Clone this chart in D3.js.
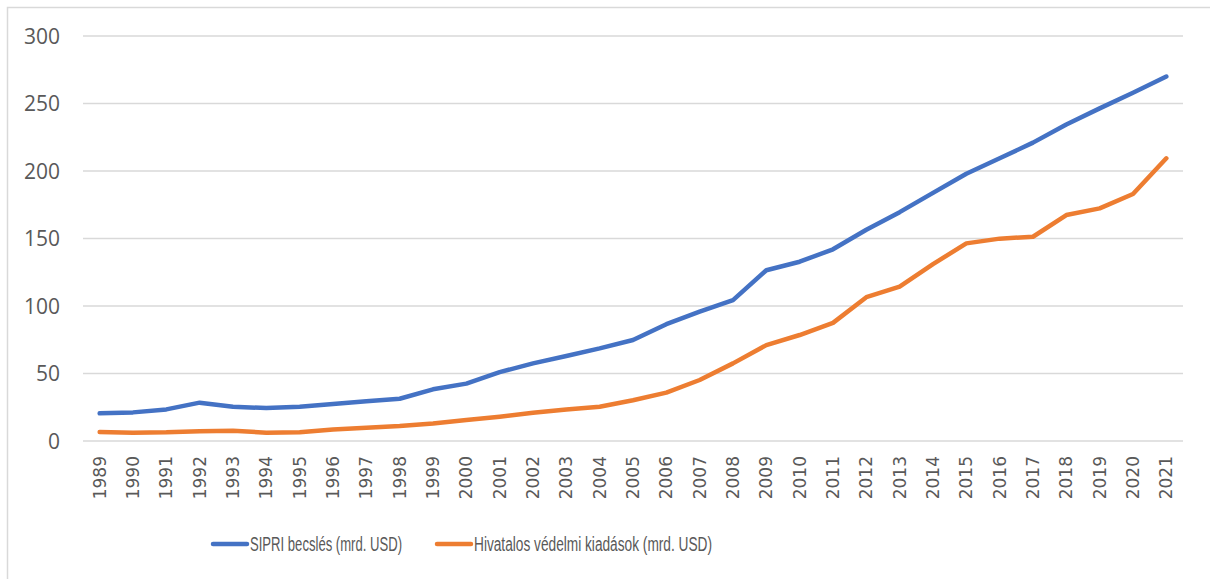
<!DOCTYPE html>
<html><head><meta charset="utf-8">
<script src="https://cdn.jsdelivr.net/npm/d3@7"></script>
<style>
html,body{margin:0;padding:0;background:#fff;}
svg{display:block;}
</style></head>
<body>
<svg id="chart" width="1210" height="579"></svg>
<script>
const years = ["1989","1990","1991","1992","1993","1994","1995","1996","1997","1998","1999","2000","2001","2002","2003","2004","2005","2006","2007","2008","2009","2010","2011","2012","2013","2014","2015","2016","2017","2018","2019","2020","2021"];
const sipri = [20.5,21.2,23.4,28.4,25.4,24.4,25.4,27.4,29.4,31.3,38.3,42.5,51,57.5,63,68.6,74.8,86.5,95.8,104.4,126.5,132.8,142,156.5,169.5,183.8,198,209.4,221,234.5,246.4,258,270];
const official = [6.7,6.2,6.4,7.2,7.6,6.2,6.4,8.6,9.9,11.1,13,15.5,18,21,23.4,25.4,30.2,35.8,45.2,57.5,71,78.5,87.5,106.5,114.3,131,146.4,149.9,151.3,167.4,172.3,183,209.4];
const yTicks = [0,50,100,150,200,250,300];
const seriesNames = ["SIPRI becslés (mrd. USD)","Hivatalos védelmi kiadások (mrd. USD)"];
const seriesColors = ["#4472C4","#ED7D31"];

const svg = d3.select("#chart");
// outer border
svg.append("rect").attr("x",7.5).attr("y",7.5).attr("width",1230).attr("height",600)
  .attr("fill","none").attr("stroke","#d9d9d9").attr("stroke-width",1.5);

const m = {left:83, right:1183, top:36, bottom:441};
const x = d3.scaleBand().domain(years).range([m.left,m.right]);
const y = d3.scaleLinear().domain([0,300]).range([m.bottom,m.top]);

// gridlines
svg.append("g").selectAll("line").data(yTicks).join("line")
  .attr("x1",m.left).attr("x2",m.right)
  .attr("y1",d=>y(d)).attr("y2",d=>y(d))
  .attr("stroke","#d9d9d9").attr("stroke-width",1.5);

// y axis labels
const yAxis = d3.axisLeft(y).tickValues(yTicks).tickSize(0).tickPadding(0);
const gy = svg.append("g").attr("transform","translate(60,0)").call(yAxis);
gy.select(".domain").remove();
gy.selectAll("text").attr("font-family","'Open Sans', sans-serif").attr("font-size","21px").attr("fill","#595959").attr("dy","0.35em");

// x axis labels
const xAxis = d3.axisBottom(x).tickSize(0).tickPadding(0);
const gx = svg.append("g").attr("transform",`translate(0,${m.bottom})`).call(xAxis);
gx.select(".domain").remove();
gx.selectAll("text")
  .attr("font-family","'DejaVu Sans', sans-serif").attr("font-size","17px").attr("fill","#595959")
  .attr("text-anchor","end").attr("dy",null).attr("y",0).attr("x",0)
  .attr("transform","translate(6,15) rotate(-90)");

// lines
const line = d3.line().x((d,i)=>x(years[i])+x.bandwidth()/2).y(d=>y(d));
[sipri, official].forEach((s,k)=>{
  svg.append("path").datum(s).attr("d",line).attr("fill","none")
    .attr("stroke",seriesColors[k]).attr("stroke-width",4.5)
    .attr("stroke-linejoin","round").attr("stroke-linecap","round");
});

// legend
const legX = [213,437];
const legW = [152,238];
const leg = svg.append("g");
seriesNames.forEach((n,k)=>{
  leg.append("line").attr("x1",legX[k]).attr("x2",legX[k]+34).attr("y1",544).attr("y2",544)
    .attr("stroke",seriesColors[k]).attr("stroke-width",4.5).attr("stroke-linecap","round");
  leg.append("text").attr("x",legX[k]+37).attr("y",544).attr("dy","0.35em")
    .attr("font-family","'Liberation Sans', Arial, sans-serif").attr("font-size","20px")
    .attr("textLength",legW[k]).attr("lengthAdjust","spacingAndGlyphs")
    .attr("fill","#595959").text(n);
});
</script>
</body></html>
